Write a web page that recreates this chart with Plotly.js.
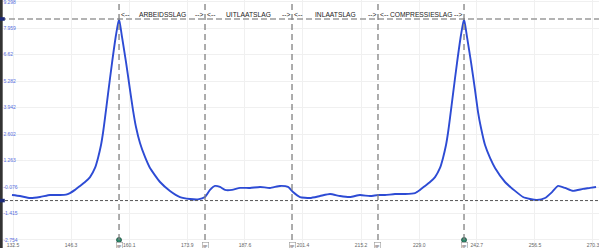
<!DOCTYPE html>
<html>
<head>
<meta charset="utf-8">
<script src="https://cdn.plot.ly/plotly-3.0.1.min.js"></script>
<style>html,body{margin:0;padding:0;background:#fff;}#chart{width:599px;height:248px;}</style>
</head>
<body>
<div id="chart"></div>
<script>
// time axis (ms) and pressure readings
const timeMs = [132.26,134.16,136.54,138.92,141.29,143.67,145.09,146.04,147.23,148.42,149.61,150.80,151.98,152.70,153.41,153.88,154.36,155.07,156.02,156.97,157.69,158.40,159.35,160.30,161.01,161.72,162.67,163.86,165.05,167.43,169.80,172.18,174.56,176.46,178.12,179.31,180.50,181.68,182.87,184.53,186.44,188.81,191.19,193.56,195.94,197.84,199.03,200.69,203.07,205.44,207.82,210.20,212.57,214.95,217.32,219.22,220.89,223.26,225.64,228.02,229.20,230.39,231.58,232.77,233.95,234.67,235.38,235.85,236.33,237.04,237.99,238.94,239.66,240.37,241.32,242.27,242.99,243.70,244.65,245.84,247.03,249.40,251.78,253.68,255.34,257.00,258.91,260.57,262.00,263.66,265.56,267.94,269.60,271.03];
const pressure = [-0.48,-0.53,-0.63,-0.58,-0.48,-0.48,-0.46,-0.38,-0.22,-0.02,0.18,0.43,0.89,1.40,2.05,2.66,3.42,4.63,6.20,7.62,8.43,7.52,6.25,4.84,3.82,2.96,2.15,1.45,0.89,0.18,-0.27,-0.58,-0.68,-0.70,-0.58,-0.22,-0.02,-0.07,-0.22,-0.22,-0.12,-0.12,-0.07,-0.12,-0.02,-0.07,-0.33,-0.58,-0.63,-0.53,-0.43,-0.53,-0.58,-0.48,-0.53,-0.48,-0.48,-0.43,-0.43,-0.38,-0.22,-0.02,0.18,0.43,0.89,1.40,2.05,2.66,3.42,4.63,6.20,7.62,8.43,7.52,6.25,4.84,3.72,2.91,2.05,1.40,0.89,0.18,-0.27,-0.58,-0.68,-0.73,-0.63,-0.33,-0.02,-0.12,-0.27,-0.17,-0.12,-0.07];

// cursors
const cursorTimes = [157.69, 178.12, 198.79, 219.22, 239.66];
const peakCursors = [157.69, 239.66];
const levelCursors = [8.43, -0.76];
const phaseLabels = ["ARBEIDSSLAG", "UITLAATSLAG", "INLAATSLAG", "COMPRESSIESLAG"];
const cursorTag = "gp";

// axis ticks
const xTickVals = [132.5,146.3,160.1,173.9,187.6,201.4,215.2,229.0,242.7,256.5,270.3];
const xTickText = ["132.5","146.3","160.1","173.9","187.6","201.4","215.2","229.0","242.7","256.5","270.3"];
const yTickVals = [-2.754,-1.415,-0.076,1.263,2.602,3.942,5.282,6.62,7.959,9.298];
const yTickText = ["-2.754","-1.415","-0.076","1.263","2.602","3.942","5.282","6.62","7.959","9.298"];
const yBottom = -2.754;

const shapes = [];
// horizontal level cursors
shapes.push({type:'line', xref:'paper', x0:0, x1:1, yref:'y', y0:levelCursors[0], y1:levelCursors[0],
  line:{color:'#9a9a9a', width:1.5, dash:'6px,3px'}});
shapes.push({type:'line', xref:'paper', x0:0, x1:1, yref:'y', y0:levelCursors[1], y1:levelCursors[1],
  line:{color:'#555', width:1, dash:'3px,2px'}});
// vertical time cursors
cursorTimes.forEach(t => {
  shapes.push({type:'line', xref:'x', x0:t, x1:t, yref:'y', y0:yBottom, y1:9.39,
    line:{color:'#808080', width:1.3, dash:'6px,4px'}});
});
// left axis bar
shapes.push({type:'line', xref:'paper', x0:0.002, x1:0.002, yref:'paper', y0:0, y1:1,
  line:{color:'#333', width:3}});
// left level markers
levelCursors.forEach(v => {
  shapes.push({type:'rect', xref:'paper', x0:0, x1:0.008, yref:'y', y0:v-0.09, y1:v+0.09,
    fillcolor:'#1c2a78', line:{width:0}});
});

const annotations = [];
const fontLbl = {family:'Liberation Sans, Arial, sans-serif', size:6.7, color:'#1a1a1a'};
for (let i = 0; i < phaseLabels.length; i++) {
  const a = cursorTimes[i], b = cursorTimes[i+1];
  annotations.push({x:(a+b)/2, xref:'x', y:0.964, yref:'paper', text:phaseLabels[i], showarrow:false, font:fontLbl});
  annotations.push({x:a, xref:'x', xshift:6, y:0.964, yref:'paper', text:'&lt;--', showarrow:false, font:fontLbl});
  annotations.push({x:b, xref:'x', xshift:-6, y:0.964, yref:'paper', text:'--&gt;', showarrow:false, font:fontLbl});
}
cursorTimes.forEach(t => {
  annotations.push({x:t, xref:'x', y:-0.004, yref:'paper', yanchor:'bottom', text:cursorTag, showarrow:false,
    font:{family:'Liberation Sans, Arial, sans-serif', size:4, color:'#555'},
    bordercolor:'#999', borderwidth:0.6, borderpad:0.3, bgcolor:'#fff'});
});

const data = [
  {x: timeMs, y: pressure, type:'scatter', mode:'lines',
   line:{color:'#2d4bd4', width:1.9, shape:'spline', smoothing:0.5}, hoverinfo:'skip'},
  {x: peakCursors, y: peakCursors.map(() => yBottom), type:'scatter', mode:'markers',
   marker:{color:'#2e8a6c', size:5, line:{color:'#1f4f40', width:0.8}}, hoverinfo:'skip', cliponaxis:false}
];

const layout = {
  width:599, height:248,
  margin:{l:0, r:0, t:0, b:0},
  paper_bgcolor:'#fff', plot_bgcolor:'#fff',
  showlegend:false,
  xaxis:{range:[129.41, 271.73], tickvals:xTickVals, ticktext:xTickText,
    side:'top', anchor:'free', position:0, ticks:'', ticklen:0, ticklabeloverflow:'allow',
    showgrid:true, gridcolor:'#f0f0f0', gridwidth:1, zeroline:false, showline:false,
    tickfont:{family:'Liberation Sans, Arial, sans-serif', size:5, color:'#666'}},
  yaxis:{range:[-3.16, 9.39], tickvals:yTickVals, ticktext:yTickText,
    side:'right', anchor:'free', position:0.004, ticks:'', ticklen:0, ticklabeloverflow:'allow',
    showgrid:true, gridcolor:'#f0f0f0', gridwidth:1, zeroline:false, showline:false,
    tickfont:{family:'Liberation Sans, Arial, sans-serif', size:5, color:'#5a6fe0'}},
  shapes: shapes,
  annotations: annotations
};

Plotly.newPlot('chart', data, layout, {staticPlot:true, displayModeBar:false});
</script>
</body>
</html>
